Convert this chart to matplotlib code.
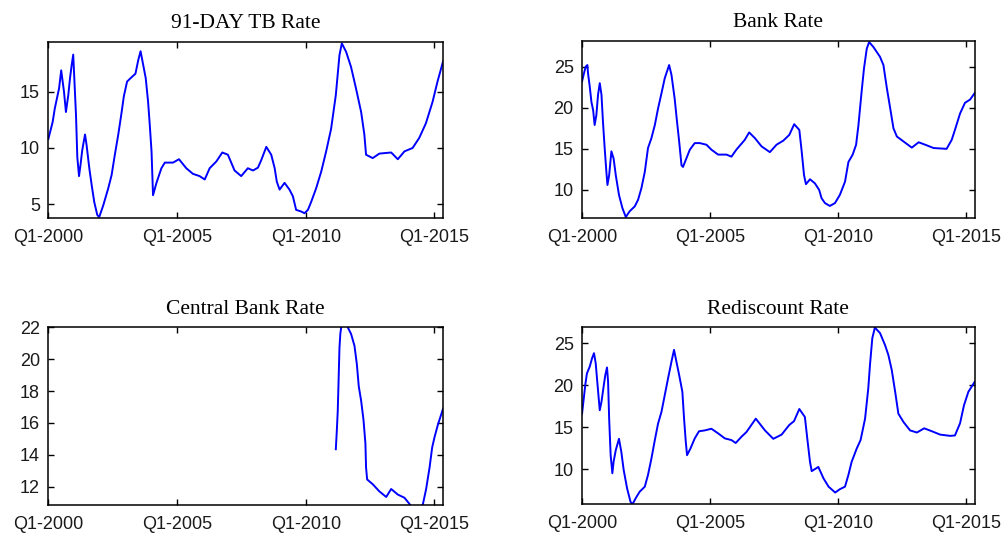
import matplotlib
matplotlib.use("Agg")
import matplotlib.pyplot as plt

# month index: 0 = Jan 2000, 180 = Jan 2015
tb_month = [0, 2, 3, 4, 5, 6, 7.3, 8.2, 9.3, 10.1, 10.9, 11.6, 12.9, 13.5, 14.3, 15.0, 15.8, 17.1, 17.8, 19.1,
            20.2, 21.4, 22.8, 23.7, 25.6, 27.9, 29.5, 31.0, 32.6, 34.1, 35.2, 36.7, 38.3, 40.6, 41.9, 43.0, 43.9,
            45.4, 46.5, 47.3, 48.1, 48.8, 50.4, 52.7, 54.3, 58.1, 60.9, 64.3, 67.4, 70.5, 72.9, 75.2, 78.3, 81.1,
            83.7, 86.8, 89.9, 93.0, 95.4, 97.7, 99.2, 101.6, 103.9, 105.5, 106.5, 107.8, 110.1, 112.4, 114.0,
            115.5, 117.9, 119.4, 121.0, 122.5, 124.8, 127.2, 129.5, 131.8, 134.0, 135.7, 136.8, 138.8, 141.1,
            143.4, 145.8, 147.3, 148.1, 151.2, 154.3, 159.8, 162.9, 166.0, 169.8, 172.9, 176.0, 179.1, 181.4, 184]
tb_rate = [10.8, 12.3, 13.5, 14.4, 15.3, 16.9, 15.0, 13.2, 14.7, 16.2, 17.4, 18.3, 12.9, 9.2, 7.5, 8.5, 9.8, 11.2,
           10.3, 8.2, 6.7, 5.2, 4.05, 3.85, 4.9, 6.4, 7.6, 9.4, 11.2, 13.1, 14.6, 15.9, 16.2, 16.6, 17.8, 18.6,
           17.7, 16.2, 14.1, 12.0, 9.7, 5.8, 6.9, 8.2, 8.7, 8.7, 9.0, 8.2, 7.7, 7.5, 7.2, 8.2, 8.8, 9.6, 9.4, 8.0,
           7.5, 8.2, 8.0, 8.25, 8.9, 10.1, 9.4, 8.2, 7.0, 6.3, 6.9, 6.3, 5.7, 4.5, 4.35, 4.2, 4.5, 5.2, 6.4, 7.9,
           9.7, 11.7, 14.7, 18.25, 19.3, 18.55, 17.2, 15.3, 13.2, 11.2, 9.4, 9.1, 9.5, 9.6, 9.0, 9.7, 10.0, 10.9,
           12.2, 14.1, 15.9, 17.7]

bank_month = [0, 0.9, 1.7, 2.5, 2.8, 3.6, 4.4, 5.2, 5.9, 6.7, 7.5, 8.3, 9.1, 9.8, 10.6, 11.4, 11.9, 12.7, 13.75,
              14.8, 15.8, 17.3, 18.9, 20.5, 22.3, 24.7, 26.25, 27.8, 29.4, 30.9, 32.5, 34.1, 35.6, 37.2, 38.75,
              40.8, 41.9, 43.4, 44.5, 45.5, 46.6, 47.3, 48.9, 50.5, 52.8, 55.2, 58.3, 60.6, 63.75, 67.7, 70.0,
              72.3, 76.25, 78.3, 81.0, 84.1, 88.0, 91.1, 94.3, 97.1, 99.4, 101.8, 102.9, 104.0, 104.9, 106.8,
              109.1, 111.1, 112.2, 113.8, 116.1, 118.5, 120.8, 123.2, 124.8, 126.8, 128.4, 129.5, 131.0, 132.1,
              133.4, 134.5, 136.5, 139.6, 141.2, 142.8, 144.4, 145.9, 147.5, 150.6, 154.5, 157.7, 160.8, 164.7,
              170.8, 173.2, 174.7, 177.1, 179.4, 181.8, 184]
bank_rate = [23.2, 24.2, 25.0, 25.2, 24.2, 22.6, 20.7, 19.7, 17.9, 19.1, 21.6, 23.0, 21.6, 18.3, 15.1, 12.2, 10.6,
             11.8, 14.7, 13.8, 11.8, 9.4, 7.8, 6.7, 7.4, 8.0, 8.8, 10.2, 12.2, 15.1, 16.3, 17.9, 19.9, 21.75, 23.6,
             25.2, 24.0, 21.1, 18.3, 15.9, 13.0, 12.8, 13.85, 14.9, 15.7, 15.7, 15.5, 14.9, 14.3, 14.3, 14.05,
             14.9, 16.1, 17.0, 16.3, 15.3, 14.6, 15.5, 16.0, 16.7, 18.0, 17.3, 14.7, 11.8, 10.7, 11.3, 10.8, 10.0,
             9.0, 8.4, 8.05, 8.4, 9.4, 11.0, 13.4, 14.3, 15.5, 17.9, 22.0, 24.8, 27.2, 28.0, 27.4, 26.2, 25.2,
             22.4, 19.9, 17.5, 16.5, 15.9, 15.15, 15.8, 15.5, 15.1, 15.0, 16.1, 17.3, 19.3, 20.6, 21.0, 21.8]

cb_month = [134.0, 134.5, 134.9, 135.2, 135.7, 136.1, 137.5, 139.6, 141.1, 142.7, 143.8, 144.7, 145.8, 146.9,
            147.8, 148.1, 148.6, 151.2, 154.3, 157.5, 159.8, 162.9, 166.0, 168.4, 171.0, 174.6, 176.1, 177.7,
            178.9, 180.0, 181.6, 184]
cb_rate = [14.35, 15.6, 16.75, 18.2, 20.7, 21.6, 23.0, 22.0, 21.6, 20.85, 19.7, 18.3, 17.4, 16.2, 14.7, 13.2,
           12.45, 12.15, 11.7, 11.35, 11.85, 11.5, 11.3, 10.9, 10.3, 10.9, 11.85, 13.2, 14.45, 15.1, 15.9, 16.9]

rd_month = [0, 0.8, 1.6, 2.3, 3.6, 4.7, 5.6, 6.4, 7.2, 8.3, 9.1, 10.2, 10.9, 11.7, 12.2, 12.7, 13.4, 14.2, 14.8,
            15.8, 17.3, 18.4, 19.5, 21.1, 22.7, 23.6, 25.2, 27.0, 29.4, 30.9, 32.5, 34.1, 35.6, 37.2, 38.75, 40.3,
            41.9, 43.1, 44.2, 45.5, 47.0, 47.8, 48.6, 49.2, 50.8, 52.8, 54.8, 57.5, 60.6, 63.75, 66.9, 70.0, 72.0,
            74.7, 77.0, 81.4, 85.7, 89.6, 93.5, 97.1, 99.3, 101.8, 104.4, 105.7, 106.8, 107.6, 110.7, 113.1,
            115.5, 118.6, 120.8, 123.2, 124.8, 126.3, 128.7, 130.5, 132.6, 134.1, 134.9, 136.0, 137.2, 139.6,
            141.9, 143.5, 145.1, 146.7, 148.2, 150.6, 153.7, 156.9, 160.3, 163.9, 167.8, 172.5, 174.7, 177.1,
            178.95, 181.0, 184]
rd_rate = [16.6, 18.4, 20.2, 21.4, 22.2, 23.2, 23.8, 22.6, 20.2, 17.0, 18.0, 20.0, 21.2, 22.1, 20.4, 16.0, 11.65,
           9.5, 10.9, 12.25, 13.6, 12.05, 9.9, 7.7, 6.1, 5.8, 6.55, 7.3, 7.9, 9.3, 11.25, 13.45, 15.4, 16.8, 18.8,
           20.8, 22.8, 24.2, 22.8, 21.2, 19.2, 16.0, 13.25, 11.65, 12.45, 13.65, 14.5, 14.6, 14.8, 14.25, 13.65,
           13.45, 13.1, 13.85, 14.4, 16.0, 14.6, 13.6, 14.1, 15.25, 15.7, 17.15, 16.2, 13.25, 10.85, 9.75, 10.25,
           8.9, 7.9, 7.2, 7.6, 7.9, 9.3, 10.85, 12.45, 13.45, 16.0, 19.6, 22.4, 25.6, 26.85, 26.2, 24.8, 23.6,
           21.8, 19.2, 16.6, 15.6, 14.6, 14.35, 14.85, 14.5, 14.1, 13.95, 14.0, 15.45, 17.6, 19.2, 20.4]

xtick_pos = [0, 60, 120, 180]
xtick_labels = ['Q1-2000', 'Q1-2005', 'Q1-2010', 'Q1-2015']

panels = [
    ('91-DAY TB Rate', tb_month, tb_rate, (3.81, 19.39), [5, 10, 15], [0.048, 0.594, 0.392, 0.327]),
    ('Bank Rate', bank_month, bank_rate, (6.63, 28.16), [10, 15, 20, 25], [0.578, 0.594, 0.390, 0.330]),
    ('Central Bank Rate', cb_month, cb_rate, (10.85, 22), [12, 14, 16, 18, 20, 22], [0.048, 0.058, 0.392, 0.331]),
    ('Rediscount Rate', rd_month, rd_rate, (5.79, 26.86), [10, 15, 20, 25], [0.578, 0.059, 0.390, 0.330]),
]

fig = plt.figure(figsize=(10.07, 5.36), dpi=100)

for title, x, y, ylim, yticks, rect in panels:
    ax = fig.add_axes(rect)
    ax.plot(x, y, color='#0000ff', lw=1.4)
    ax.set_xlim(0, 184)
    ax.set_ylim(*ylim)
    ax.set_xticks(xtick_pos)
    ax.set_xticklabels(xtick_labels)
    ax.set_yticks(yticks)
    ax.tick_params(direction='in', top=True, right=True, length=4, width=1,
                   labelsize=13, pad=6, colors='black', labelcolor='#1a1a1a')
    ax.tick_params(axis='x', pad=8)
    for lab in ax.get_xticklabels() + ax.get_yticklabels():
        lab.set_fontfamily('Liberation Sans')
    for s in ax.spines.values():
        s.set_linewidth(1.1)
    ax.set_title(title, fontfamily='Liberation Serif', fontsize=15.5, pad=10)

plt.savefig('out.png', dpi=100)
